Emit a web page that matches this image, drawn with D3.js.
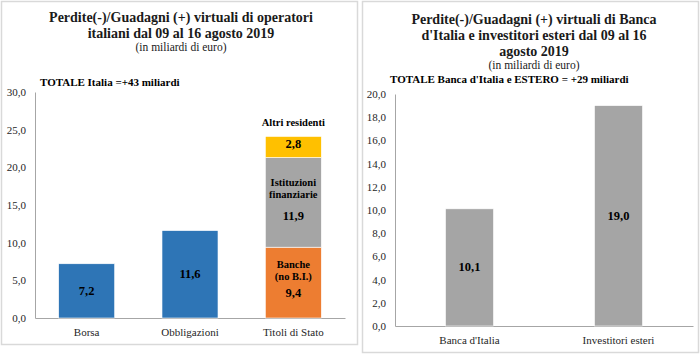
<!DOCTYPE html>
<html>
<head>
<meta charset="utf-8">
<script src="https://cdn.jsdelivr.net/npm/d3@7"></script>
<style>
html,body{margin:0;padding:0;background:#fff;}
svg{display:block;font-family:"Liberation Serif","Times New Roman",serif;}
</style>
</head>
<body>
<svg id="chart" width="700" height="354"></svg>
<script>
// ---- data ----
const leftCategories = ["Borsa", "Obbligazioni", "Titoli di Stato"];
const leftValues = [7.2, 11.6];          // simple bars (Borsa, Obbligazioni)
const stackNames = ["Banche", "Istituzioni finanziarie", "Altri residenti"];
const stackValues = [9.4, 11.9, 2.8];    // Titoli di Stato stacked
const leftTicks = [0, 5, 10, 15, 20, 25, 30];

const rightCategories = ["Banca d'Italia", "Investitori esteri"];
const rightValues = [10.1, 19.0];
const rightTicks = [0, 2, 4, 6, 8, 10, 12, 14, 16, 18, 20];

const leftTitle = ["Perdite(-)/Guadagni (+) virtuali di operatori", "italiani dal 09 al 16 agosto 2019"];
const rightTitle = ["Perdite(-)/Guadagni (+)  virtuali di Banca", "d'Italia e investitori esteri dal 09 al 16", "agosto 2019"];
const subtitle = "(in miliardi di euro)";
const leftTotal = "TOTALE Italia =+43 miliardi";
const rightTotal = "TOTALE Banca d'Italia e ESTERO = +29 miliardi";

// ---- styles ----
const BLUE = "#2E75B6", ORANGE = "#ED7D31", GRAY = "#A5A5A5", YELLOW = "#FFC000";
const fmt = v => d3.format(".1f")(v).replace(".", ",");

const svg = d3.select("#chart");

// panel frames
svg.append("rect").attr("x", 1.5).attr("y", 1.5).attr("width", 356).attr("height", 343)
  .attr("fill", "none").attr("stroke", "#d9d9d9").attr("stroke-width", 1.5);
svg.append("rect").attr("x", 362.5).attr("y", 1.5).attr("width", 336).attr("height", 351)
  .attr("fill", "none").attr("stroke", "#d9d9d9").attr("stroke-width", 1.5);

function styleAxis(g) {
  g.select(".domain").attr("stroke", "#a6a6a6").attr("stroke-width", 1);
  g.selectAll(".tick line").remove();
  g.selectAll(".tick text").attr("fill", "#262626").style("font-size", "11px")
    .style("font-family", "'Liberation Serif','Times New Roman',serif");
}

function titles(lines, cx, ys, subY, total, totalX, totalY) {
  lines.forEach((t, i) => {
    svg.append("text").attr("x", cx).attr("y", ys[i]).attr("text-anchor", "middle")
      .style("font-size", "14px").style("font-weight", "bold").attr("fill", "#1a1a1a").text(t);
  });
  svg.append("text").attr("x", cx).attr("y", subY).attr("text-anchor", "middle")
    .style("font-size", "11.5px").attr("fill", "#1a1a1a").text(subtitle);
  svg.append("text").attr("x", totalX).attr("y", totalY)
    .style("font-size", "11px").style("font-weight", "bold").attr("fill", "#000").text(total);
}

// ================= LEFT CHART =================
const lx = d3.scaleBand().domain(leftCategories).range([35, 345]).paddingInner(0.458).paddingOuter(0.229);
const ly = d3.scaleLinear().domain([0, 30]).range([318, 92]);

titles(leftTitle, 181, [22, 38], 51, leftTotal, 40, 86);

svg.append("g").attr("transform", "translate(35,0)")
  .call(d3.axisLeft(ly).tickValues(leftTicks).tickFormat(fmt).tickSize(0).tickPadding(9))
  .call(styleAxis);
svg.append("g").attr("transform", "translate(0,318)")
  .call(d3.axisBottom(lx).tickSize(0).tickPadding(10))
  .call(styleAxis);

// simple bars
leftValues.forEach((v, i) => {
  const c = leftCategories[i];
  svg.append("rect").attr("x", lx(c)).attr("y", ly(v)).attr("width", lx.bandwidth())
    .attr("height", ly(0) - ly(v)).attr("fill", BLUE).attr("stroke", "#fff").attr("stroke-width", 0.6);
  svg.append("text").attr("x", lx(c) + lx.bandwidth() / 2).attr("y", ly(v / 2) + 4)
    .attr("text-anchor", "middle").style("font-size", "12.5px").style("font-weight", "bold")
    .attr("fill", "#000").text(fmt(v));
});

// stacked bar
const stackCat = leftCategories[2];
const stackColors = [ORANGE, GRAY, YELLOW];
let cum = 0;
const stackPos = stackValues.map(v => { const s = cum; cum += v; return [s, cum]; });
stackPos.forEach(([a, b], i) => {
  svg.append("rect").attr("x", lx(stackCat)).attr("y", ly(b)).attr("width", lx.bandwidth())
    .attr("height", ly(a) - ly(b)).attr("fill", stackColors[i]).attr("stroke", "#fff").attr("stroke-width", 0.6);
});
const scx = lx(stackCat) + lx.bandwidth() / 2;
function lbl(x, y, t, size) {
  svg.append("text").attr("x", x).attr("y", y).attr("text-anchor", "middle")
    .style("font-size", size + "px").style("font-weight", "bold").attr("fill", "#000").text(t);
}
// Banche
lbl(scx, ly(stackPos[0][1]) + 21, "Banche", 10.5);
lbl(scx, ly(stackPos[0][1]) + 33, "(no B.I.)", 10.5);
lbl(scx, ly(stackPos[0][1]) + 50, fmt(stackValues[0]), 12.5);
// Istituzioni
lbl(scx, ly(stackPos[1][1]) + 28, "Istituzioni", 10.5);
lbl(scx, ly(stackPos[1][1]) + 40, "finanziarie", 10.5);
lbl(scx, ly(stackPos[1][1]) + 62, fmt(stackValues[1]), 12.5);
// Altri
lbl(scx, ly(stackPos[2][1]) + 12, fmt(stackValues[2]), 12.5);
lbl(scx, ly(stackPos[2][1]) - 10, stackNames[2], 10.5);

// ================= RIGHT CHART =================
const rx = d3.scaleBand().domain(rightCategories).range([395, 693]).paddingInner(0.678).paddingOuter(0.339);
const ry = d3.scaleLinear().domain([0, 20]).range([326, 94]);

titles(rightTitle, 534, [24, 40, 55.5], 69, rightTotal, 390, 83);

svg.append("g").attr("transform", "translate(395,0)")
  .call(d3.axisLeft(ry).tickValues(rightTicks).tickFormat(fmt).tickSize(0).tickPadding(9))
  .call(styleAxis);
svg.append("g").attr("transform", "translate(0,326)")
  .call(d3.axisBottom(rx).tickSize(0).tickPadding(10))
  .call(styleAxis);

rightValues.forEach((v, i) => {
  const c = rightCategories[i];
  svg.append("rect").attr("x", rx(c)).attr("y", ry(v)).attr("width", rx.bandwidth())
    .attr("height", ry(0) - ry(v)).attr("fill", GRAY).attr("stroke", "#fff").attr("stroke-width", 0.6);
  svg.append("text").attr("x", rx(c) + rx.bandwidth() / 2).attr("y", ry(v / 2) + 4)
    .attr("text-anchor", "middle").style("font-size", "12.5px").style("font-weight", "bold")
    .attr("fill", "#000").text(fmt(v));
});
</script>
</body>
</html>
